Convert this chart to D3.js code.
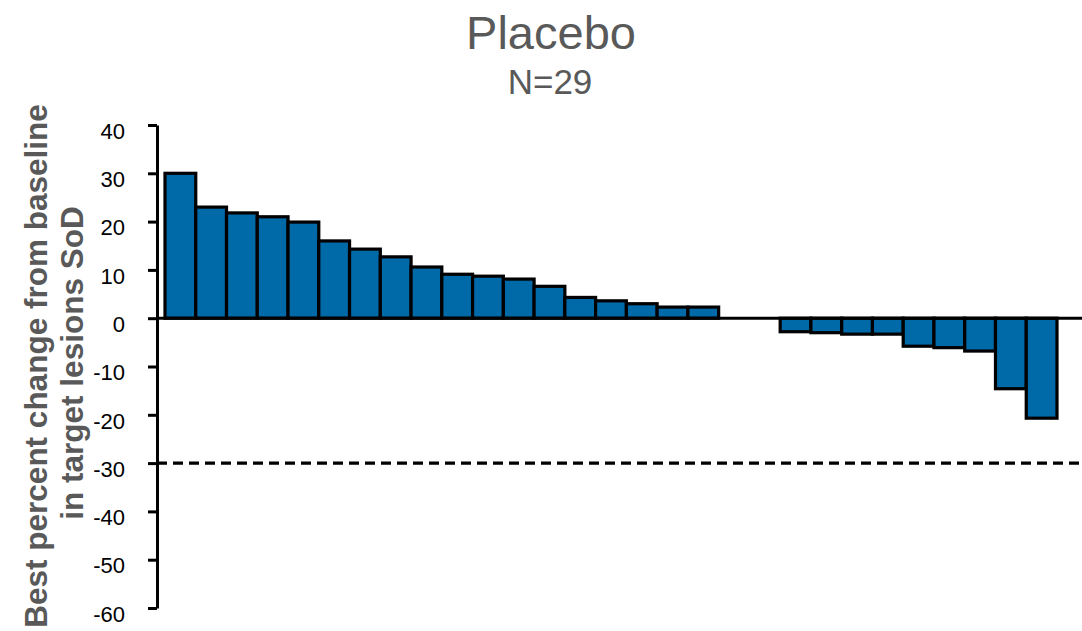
<!DOCTYPE html>
<html>
<head>
<meta charset="utf-8">
<script src="https://cdn.jsdelivr.net/npm/d3@7"></script>
<style>
  body { margin: 0; background: #fff; }
  .chart { width: 1082px; height: 631px; }
  text { font-family: 'Liberation Sans', Arial, sans-serif; }
</style>
</head>
<body>
<div class="chart"></div>
<script>
// data (best % change, sorted)
const patients = d3.range(1, 30);
const changes = [30, 23, 21.8, 21, 19.9, 16, 14.3, 12.7, 10.6, 9.1, 8.7, 8.1, 6.6, 4.3, 3.6, 3.0, 2.3, 2.3,
	0, 0,
	-2.8, -3.0, -3.3, -3.3, -5.8, -6.1, -6.8, -14.6, -20.7];
const yTicks = [40, 30, 20, 10, 0, -10, -20, -30, -40, -50, -60];
const threshold = -30;
const title = 'Placebo';
const subtitle = 'N=29';
const yLabel = ['Best percent change from baseline', 'in target lesions SoD'];

const width = d3.select('.chart').node().clientWidth;
const height = d3.select('.chart').node().clientHeight;

let svg = d3.select('.chart')
	.append('svg')
	.attr('width', width)
	.attr('height', height);

const axisX = 157;

const x = d3.scaleBand()
	.domain(patients)
	.range([165, 1057])
	.padding(0);

const y = d3.scaleLinear()
	.domain([-60, 40])
	.range([608, 125]);

// bars
svg.selectAll('rect.bar')
	.data(changes)
	.enter()
	.append('rect')
	.attr('class', 'bar')
	.attr('x', (d, i) => x(patients[i]))
	.attr('width', x.bandwidth())
	.attr('y', d => y(Math.max(0, d)))
	.attr('height', d => Math.abs(y(d) - y(0)))
	.attr('fill', '#0069a8')
	.attr('stroke', '#000')
	.attr('stroke-width', 3.2);

// zero line
svg.append('line')
	.attr('x1', axisX)
	.attr('x2', width)
	.attr('y1', y(0))
	.attr('y2', y(0))
	.style('stroke', '#000')
	.style('stroke-width', 3);

// -30% response threshold
svg.append('line')
	.attr('x1', axisX)
	.attr('x2', width)
	.attr('y1', y(threshold))
	.attr('y2', y(threshold))
	.style('stroke', '#000')
	.style('stroke-width', 3.4)
	.style('stroke-dasharray', '10,6');

// y axis (plain hyphen for minus, like the original)
let yAxis = svg.append('g')
	.attr('transform', `translate(${axisX},0)`)
	.call(d3.axisLeft(y).tickValues(yTicks).tickFormat(d => String(d))
		.tickSize(9).tickSizeOuter(0).tickPadding(23));

yAxis.select('.domain').attr('stroke-width', 3);
yAxis.selectAll('.tick line').attr('stroke-width', 3);
yAxis.selectAll('.tick text')
	.attr('dy', '0.6em')
	.style('font-size', '22px')
	.style('font-family', "'Liberation Sans', Arial, sans-serif")
	.attr('fill', '#000');

// y label, two rotated lines
svg.selectAll('text.ylab')
	.data(yLabel)
	.enter()
	.append('text')
	.attr('class', 'ylab')
	.attr('transform', (d, i) => `translate(${47 + i * 36},${366 - i * 3}) rotate(-90)`)
	.attr('text-anchor', 'middle')
	.style('font-size', '31.5px')
	.style('font-weight', 'bold')
	.attr('fill', '#595959')
	.text(d => d);

// title
svg.append('text')
	.attr('x', 551)
	.attr('y', 49)
	.attr('text-anchor', 'middle')
	.style('font-size', '47px')
	.attr('fill', '#595959')
	.text(title);

svg.append('text')
	.attr('x', 550)
	.attr('y', 94)
	.attr('text-anchor', 'middle')
	.style('font-size', '35px')
	.attr('fill', '#595959')
	.text(subtitle);
</script>
</body>
</html>
